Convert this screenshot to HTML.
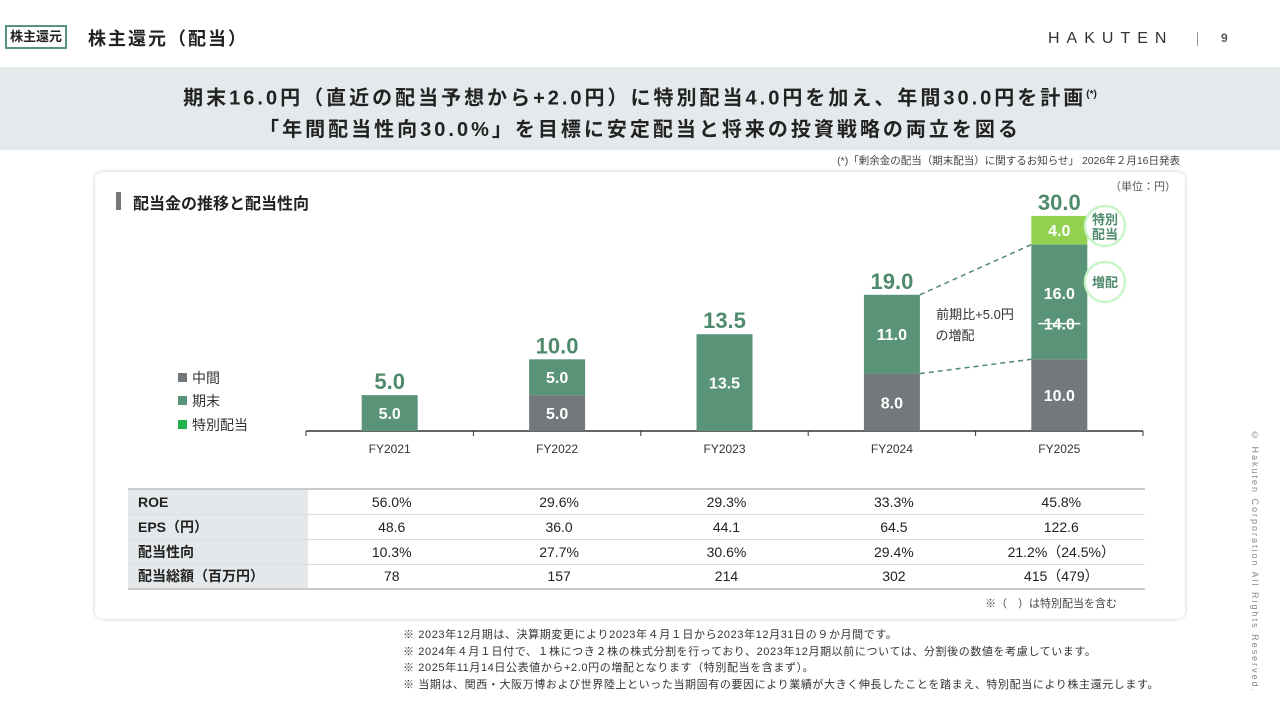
<!DOCTYPE html>
<html><head><meta charset="utf-8"><style>
*{margin:0;padding:0;box-sizing:border-box}
body{width:1280px;height:720px;background:#fff;position:relative;overflow:hidden;font-family:"Liberation Sans","Noto Sans CJK JP",sans-serif;color:#222}
.abs{position:absolute}
</style></head><body>
<div class="abs" style="left:5px;top:25px;width:62px;height:24px;border:2px solid #5a9478;font-size:13px;line-height:20px;text-align:center;font-weight:bold">株主還元</div>
<div class="abs" style="left:88px;top:25px;font-size:18px;font-weight:bold;letter-spacing:2px">株主還元（配当）</div>
<div class="abs" style="left:1048px;top:30px;font-size:16px;letter-spacing:7px;color:#333">HAKUTEN</div>
<div class="abs" style="left:1197px;top:32px;width:1px;height:14px;background:#999"></div>
<div class="abs" style="left:1221px;top:31px;font-size:12px;font-weight:bold;color:#555">9</div>
<div class="abs" style="left:0;top:67px;width:1280px;height:83px;background:#e4e9ec"></div>
<div class="abs" style="left:0;top:79px;width:1280px;text-align:center;font-size:20px;font-weight:bold;line-height:31px;letter-spacing:3px">期末16.0円（直近の配当予想から+2.0円）に特別配当4.0円を加え、年間30.0円を計画<sup style="font-size:10px;letter-spacing:0">(*)</sup><br>「年間配当性向30.0%」を目標に安定配当と将来の投資戦略の両立を図る</div>
<div class="abs" style="right:100px;top:153px;font-size:10.5px;color:#444">(*)「剰余金の配当（期末配当）に関するお知らせ」 2026年２月16日発表</div>
<div class="abs" style="left:95px;top:172px;width:1090px;height:447px;border-radius:8px;box-shadow:0 0 4px rgba(0,0,0,.2);background:#fff"></div>
<div class="abs" style="left:116px;top:192px;width:5px;height:18px;background:#777"></div>
<div class="abs" style="left:133px;top:190px;font-size:16px;font-weight:bold">配当金の推移と配当性向</div>
<div class="abs" style="left:1110px;top:178px;font-size:11px;color:#555">（単位：円）</div>
<svg class="abs" style="left:0;top:0" width="1280" height="720" id="chart"></svg>
<div class="abs" style="left:1250px;top:430px;writing-mode:vertical-rl;font-size:9px;letter-spacing:2px;color:#888">© Hakuten Corporation All Rights Reserved.</div>
<table class="abs" style="left:128px;top:488px;width:1017px;table-layout:fixed;border-collapse:collapse;font-size:14px;border-top:2px solid #ccc;border-bottom:2px solid #ccc">
<colgroup><col style="width:180px"><col><col><col><col><col></colgroup>
<tbody id="tb"></tbody></table>
<div class="abs" style="left:985px;top:595px;font-size:11px;color:#444">※（　）は特別配当を含む</div>
<div class="abs" style="left:403px;top:627px;font-size:11px;line-height:16.5px;letter-spacing:0.6px;color:#333">※ 2023年12月期は、決算期変更により2023年４月１日から2023年12月31日の９か月間です。<br>※ 2024年４月１日付で、１株につき２株の株式分割を行っており、2023年12月期以前については、分割後の数値を考慮しています。<br>※ 2025年11月14日公表値から+2.0円の増配となります（特別配当を含まず）。<br>※ 当期は、関西・大阪万博および世界陸上といった当期固有の要因により業績が大きく伸長したことを踏まえ、特別配当により株主還元します。</div>
<script>
const categories=["FY2021","FY2022","FY2023","FY2024","FY2025"];
const interim=[0,5,0,8,10];
const yearEnd=[5,5,13.5,11,16];
const special=[0,0,0,0,4];
const totals=["5.0","10.0","13.5","19.0","30.0"];
const rowLabels=["ROE","EPS（円）","配当性向","配当総額（百万円）"];
const roe=["56.0%","29.6%","29.3%","33.3%","45.8%"];
const eps=["48.6","36.0","44.1","64.5","122.6"];
const payout=["10.3%","27.7%","30.6%","29.4%","21.2%（24.5%）"];
const totalAmt=["78","157","214","302","415（479）"];
const NS="http://www.w3.org/2000/svg";
const svg=document.getElementById('chart');
const base=431, k=7.17, x0=306, step=167.4, bw=56;
const y=v=>base-v*k, cx=i=>x0+step*(i+0.5);
function el(t,a){const e=document.createElementNS(NS,t);for(const n in a)e.setAttribute(n,a[n]);svg.appendChild(e);return e}
function txt(x,yy,s,sz,fill,w){const t=el('text',{x:x,y:yy,'font-size':sz,fill:fill,'text-anchor':'middle','font-weight':w||'bold','font-family':'Liberation Sans, Noto Sans CJK JP, sans-serif'});t.textContent=s;return t}
const ax=el('line',{x1:x0,y1:base,x2:x0+step*5,y2:base,stroke:'#333','stroke-width':1.5});


for(let i=0;i<=5;i++){el('line',{x1:x0+step*i,y1:base,x2:x0+step*i,y2:base+5,stroke:'#333'});}
const segs=[[interim,'#72787b','interim'],[yearEnd,'#5a9478','year-end'],[special,'#92d050','special']];
categories.forEach((c,i)=>{
  let acc=0;
  segs.forEach(([arr,col,nm])=>{
    const v=arr[i]; if(!v) return;
    const r=el('rect',{x:cx(i)-bw/2,y:y(acc+v),width:bw,height:v*k,fill:col});
    
    
    if(!(nm==='year-end'&&i===4)) txt(cx(i),y(acc+v/2)+6,v.toFixed(1),16,'#fff');
    acc+=v;
  });
  const tl=txt(cx(i),y(acc)-6,totals[i],22,'#4f8a6c');
  
  
  txt(cx(i),base+22,c,12,'#333','normal');
});
txt(cx(4),y(interim[4]+yearEnd[4]*0.5)-3,"16.0",16,'#fff');
txt(cx(4),y(interim[4]+yearEnd[4]*0.25)-1,"14.0",16,'#fff');
el('line',{x1:cx(4)-21,y1:y(interim[4]+yearEnd[4]*0.25)-7,x2:cx(4)+21,y2:y(interim[4]+yearEnd[4]*0.25)-7,stroke:'#fff','stroke-width':1.5});
el('line',{x1:cx(3)+bw/2,y1:y(interim[3]+yearEnd[3]),x2:cx(4)-bw/2,y2:y(interim[4]+yearEnd[4]),stroke:'#4f8a6c','stroke-dasharray':'5,4','stroke-width':1.5});
el('line',{x1:cx(3)+bw/2,y1:y(interim[3]),x2:cx(4)-bw/2,y2:y(interim[4]),stroke:'#4f8a6c','stroke-dasharray':'5,4','stroke-width':1.5});
txt(975,319,"前期比+5.0円",13,'#333','normal');
txt(955,340,"の増配",13,'#333','normal');
[[1105,226,"特別","配当"],[1105,282,"増配",null]].forEach(([bx,by,l1,l2])=>{
  el('circle',{cx:bx,cy:by,r:20,fill:'#fff',stroke:'#c8f5c8','stroke-width':2.5});
  if(l2){txt(bx,by-2,l1,13,'#4f8a6c');txt(bx,by+13,l2,13,'#4f8a6c');}else txt(bx,by+5,l1,13,'#4f8a6c');
});
[["中間",'#72787b',383],["期末",'#5a9478',406],["特別配当",'#22b14c',430]].forEach(([l,c,ly])=>{
  const r=el('rect',{x:178,y:ly-10,width:9,height:9,fill:c});
  
  
  const t=txt(192,ly,l,14,'#333','normal');t.setAttribute('text-anchor','start');
});
const tb=document.getElementById('tb');
[roe,eps,payout,totalAmt].forEach((arr,r)=>{
  const tr=document.createElement('tr');
  
  
  let h='<td style="background:#e4e8ea;font-weight:bold;padding-left:10px;height:25px;border-bottom:1px solid #ddd">'+rowLabels[r]+'</td>';
  arr.forEach(v=>h+='<td style="text-align:center;border-bottom:1px solid #ddd">'+v+'</td>');
  tr.innerHTML=h;tb.appendChild(tr);
});
</script>
</body></html>
